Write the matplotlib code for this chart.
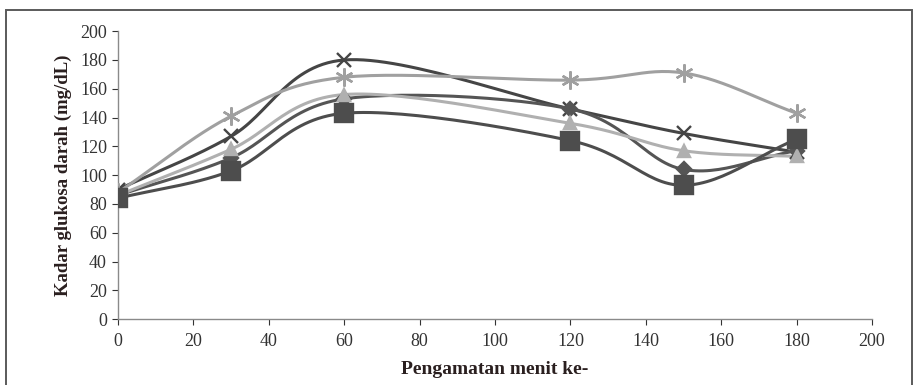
import numpy as np
import matplotlib
matplotlib.use("Agg")
import matplotlib.pyplot as plt
from matplotlib.patches import Rectangle

# ---- data ----
minutes = [0, 30, 60, 120, 150, 180]
series_a = [88, 141, 168, 166, 171, 143]   # light asterisk
series_b = [90, 127, 180, 146, 129, 116]   # dark X
series_c = [86, 112, 153, 146, 104, 117]   # dark diamond
series_d = [86, 118, 156, 136, 117, 113]   # light triangle
series_e = [84, 103, 143, 124, 93, 125]    # dark square
x_ticks = [0, 20, 40, 60, 80, 100, 120, 140, 160, 180, 200]
y_ticks = [0, 20, 40, 60, 80, 100, 120, 140, 160, 180, 200]


def smooth(xs, ys, n=30):
    """Catmull-Rom style smoothing (like Excel smoothed lines) for drawing."""
    xs = np.asarray(xs, float)
    ys = np.asarray(ys, float)
    px = np.concatenate([[2 * xs[0] - xs[1]], xs, [2 * xs[-1] - xs[-2]]])
    py = np.concatenate([[2 * ys[0] - ys[1]], ys, [2 * ys[-1] - ys[-2]]])
    ox, oy = [], []
    for i in range(1, len(px) - 2):
        p0, p1, p2, p3 = (np.array([px[j], py[j]]) for j in range(i - 1, i + 3))
        c1 = p1 + (p2 - p0) / 6.0
        c2 = p2 - (p3 - p1) / 6.0
        t = np.linspace(0, 1, n)[:, None]
        b = ((1 - t) ** 3) * p1 + 3 * ((1 - t) ** 2) * t * c1 + 3 * (1 - t) * t ** 2 * c2 + t ** 3 * p2
        ox.extend(b[:, 0]); oy.extend(b[:, 1])
    return np.array(ox), np.array(oy)


plt.rcParams['font.family'] = ['Liberation Serif', 'DejaVu Serif']
fig = plt.figure(figsize=(9.15, 3.85), dpi=100)
fig.patches.append(Rectangle((0.007, -0.01), 0.99, 0.983, transform=fig.transFigure,
                             fill=False, edgecolor='#5a5a5a', linewidth=1.4))
ax = fig.add_axes([0.129, 0.171, 0.824, 0.748])

styles = [
    (series_b, '#454545', 'x', 10, 2.2),
    (series_a, '#a0a0a0', (6, 2, 0), 13, 2.2),
    (series_c, '#555555', 'D', 7, 2.2),
    (series_d, '#b0b0b0', '^', 9, 2.2),
    (series_e, '#4d4d4d', 's', 13, 2.2),
]
for ys, col, mk, ms, lw in styles:
    sx, sy = smooth(minutes, ys)
    ax.plot(sx, sy, color=col, linewidth=lw, zorder=2)
    ax.plot(minutes, ys, linestyle='none', marker=mk, markersize=ms,
            color=col, markeredgecolor=col, markeredgewidth=1.7, zorder=3)

ax.set_xlim(0, 200)
ax.set_ylim(0, 200)
ax.set_xticks(x_ticks)
ax.set_yticks(y_ticks)
ax.tick_params(axis='both', labelsize=13, colors='#333333', length=4, width=0.8)
ax.tick_params(axis='x', pad=6)
ax.tick_params(axis='y', pad=4)
for s in ['top', 'right']:
    ax.spines[s].set_visible(False)
for s in ['left', 'bottom']:
    ax.spines[s].set_color('#8a8a8a')
    ax.spines[s].set_linewidth(1.0)

ax.set_ylabel('Kadar glukosa darah (mg/dL)', fontsize=13.5, fontweight='bold',
              color='#2a1f1f', labelpad=6)
ax.set_xlabel('Pengamatan menit ke-', fontsize=14, fontweight='bold',
              color='#2a1f1f', labelpad=8)

fig.savefig('out.png', dpi=100)
